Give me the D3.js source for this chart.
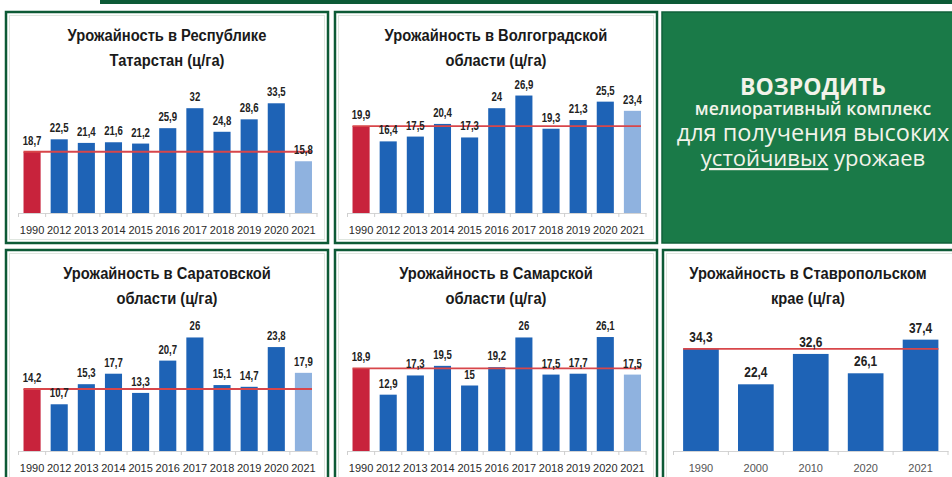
<!DOCTYPE html>
<html>
<head>
<meta charset="utf-8">
<script src="https://cdn.jsdelivr.net/npm/d3@7"></script>
<style>
  html, body { margin: 0; padding: 0; background: #fff; }
  svg { display: block; }
</style>
</head>
<body>
<div id="chart"></div>
<script>
// --- data ---
const yearsMain = ['1990', '2012', '2013', '2014', '2015', '2016', '2017', '2018', '2019', '2020', '2021'];
const tatarstan = [18.7, 22.5, 21.4, 21.6, 21.2, 25.9, 32, 24.8, 28.6, 33.5, 15.8];
const volgograd = [19.9, 16.4, 17.5, 20.4, 17.3, 24, 26.9, 19.3, 21.3, 25.5, 23.4];
const saratov = [14.2, 10.7, 15.3, 17.7, 13.3, 20.7, 26, 15.1, 14.7, 23.8, 17.9];
const samara = [18.9, 12.9, 17.3, 19.5, 15, 19.2, 26, 17.5, 17.7, 26.1, 17.5];

const yearsStavropol = ['1990', '2000', '2010', '2020', '2021'];
const stavropol = [34.3, 22.4, 32.6, 26.1, 37.4];

const titles = [
  ['Урожайность в Республике', 'Татарстан (ц/га)'],
  ['Урожайность в Волгоградской', 'области (ц/га)'],
  ['Урожайность в Саратовской', 'области (ц/га)'],
  ['Урожайность в Самарской', 'области (ц/га)'],
  ['Урожайность в Ставропольском', 'крае (ц/га)']
];

const slogan = ['ВОЗРОДИТЬ', 'мелиоративный комплекс', 'для получения высоких'];
const sloganLast = ['устойчивых', 'урожаев'];

const width = 952;
const height = 477;

// Calibri-like look: Liberation Sans squeezed horizontally
const face = '"Liberation Sans", Arial, sans-serif';
const sans = '"Open Sans", "Noto Sans", sans-serif';

const darkGreen = '#0d5a36';
const red = '#c8233c';
const blue = '#1e63b6';
const lightBlue = '#8fb2df';
const lineRed = '#d8464a';

const svg = d3.select('#chart')
  .append('svg')
  .attr('width', width)
  .attr('height', height)
  .attr('viewBox', `0 0 ${width} ${height}`);

// thin green strip along the top
svg.append('rect')
  .attr('x', 100).attr('y', 0)
  .attr('width', width - 100).attr('height', 4)
  .attr('fill', darkGreen);

// chart panels
const panels = [
  { x: 6,   y: 12,  w: 322, h: 231, title: titles[0], cats: yearsMain, vals: tatarstan, yMax: 40 },
  { x: 335, y: 12,  w: 322, h: 231, title: titles[1], cats: yearsMain, vals: volgograd, yMax: 30 },
  { x: 6,   y: 250, w: 322, h: 240, title: titles[2], cats: yearsMain, vals: saratov,   yMax: 30 },
  { x: 335, y: 250, w: 322, h: 240, title: titles[3], cats: yearsMain, vals: samara,    yMax: 30 },
  { x: 663, y: 250, w: 300, h: 240, title: titles[4], cats: yearsStavropol, vals: stavropol, yMax: 44, wide: true }
];

panels.forEach(drawPanel);

function drawPanel(p) {
  const g = svg.append('g').attr('transform', `translate(${p.x},${p.y})`);

  g.append('rect')
    .attr('x', 0).attr('y', 0)
    .attr('width', p.w).attr('height', p.h)
    .attr('fill', '#fff')
    .attr('stroke', darkGreen)
    .attr('stroke-width', 2.5);

  g.append('rect')
    .attr('x', 3.5).attr('y', 3.5)
    .attr('width', p.w - 7).attr('height', p.h - 7)
    .attr('fill', 'none')
    .attr('stroke', '#dfe6df')
    .attr('stroke-width', 1);

  const cx = p.wide ? 145 : p.w / 2;
  g.selectAll('.title')
    .data(p.title)
    .enter()
    .append('text')
    .attr('class', 'title')
    .attr('transform', (d, i) => `translate(${cx},${29 + i * 25}) scale(0.92,1)`)
    .attr('text-anchor', 'middle')
    .style('font-family', face)
    .style('font-weight', 'bold')
    .style('font-size', '16px')
    .style('fill', '#1a1a1a')
    .text(d => d);

  const base = 201;
  const plotH = 131;

  const x = d3.scaleBand()
    .domain(p.cats)
    .range(p.wide ? [10.5, 285] : [12.5, 311])
    .paddingInner(p.wide ? 0.35 : 0.37)
    .paddingOuter(p.wide ? 0.175 : 0.185);

  const y = d3.scaleLinear()
    .domain([0, p.yMax])
    .range([base, base - plotH]);

  const data = p.cats.map((c, i) => ({ cat: c, value: p.vals[i], i }));
  const last = data.length - 1;

  const fillFor = d => {
    if (p.wide) return blue;
    if (d.i === 0) return red;
    if (d.i === last) return lightBlue;
    return blue;
  };

  g.selectAll('.bar')
    .data(data)
    .enter()
    .append('rect')
    .attr('class', 'bar')
    .attr('x', d => x(d.cat))
    .attr('y', d => y(d.value))
    .attr('width', x.bandwidth())
    .attr('height', d => base - y(d.value))
    .attr('fill', fillFor);

  // axis with labels, ticks between the categories
  const axis = d3.axisBottom(x).tickSize(0).tickPadding(13).tickSizeOuter(0);
  const ax = g.append('g')
    .attr('transform', `translate(0,${base})`)
    .call(axis);
  ax.select('.domain').attr('stroke', '#d4d4d4');
  ax.selectAll('text')
    .style('font-family', face)
    .style('font-size', '11px')
    .style('fill', p.wide ? '#555' : '#2a2a2a');

  const step = x.step();
  const bounds = d3.range(p.cats.length + 1).map(k => x(p.cats[0]) - step * x.paddingInner() / 2 + k * step);
  g.selectAll('.btick')
    .data(bounds)
    .enter()
    .append('line')
    .attr('x1', d => d).attr('x2', d => d)
    .attr('y1', base).attr('y2', base + 4)
    .attr('stroke', '#cfcfcf');

  // reference line at the 1990 level
  g.append('line')
    .attr('x1', x(p.cats[0]))
    .attr('x2', x(p.cats[last]) + x.bandwidth())
    .attr('y1', y(p.vals[0]))
    .attr('y2', y(p.vals[0]))
    .attr('stroke', lineRed)
    .attr('stroke-width', 1.8);

  g.selectAll('.val')
    .data(data)
    .enter()
    .append('text')
    .attr('class', 'val')
    .attr('transform', d => `translate(${x(d.cat) + x.bandwidth() / 2},${y(d.value) - 7}) scale(${p.wide ? 0.85 : 0.8},1)`)
    .attr('text-anchor', 'middle')
    .style('font-family', face)
    .style('font-weight', 'bold')
    .style('font-size', p.wide ? '14px' : '12px')
    .style('fill', '#222')
    .text(d => String(d.value).replace('.', ','));
}

// green call-out box
const box = svg.append('g').attr('transform', 'translate(662,12)');
box.append('rect')
  .attr('x', 0).attr('y', 0)
  .attr('width', 300).attr('height', 231)
  .attr('fill', '#1a7a48')
  .attr('stroke', '#11603a')
  .attr('stroke-width', 1.5);

const sloganStyle = [
  { y: 83, size: 23, weight: 'bold' },
  { y: 103, size: 17.5, weight: '600' },
  { y: 129, size: 23.5, weight: 'normal' }
];

box.selectAll('.slogan')
  .data(slogan)
  .enter()
  .append('text')
  .attr('class', 'slogan')
  .attr('x', 151)
  .attr('y', (d, i) => sloganStyle[i].y)
  .attr('text-anchor', 'middle')
  .style('font-family', sans)
  .style('font-size', (d, i) => sloganStyle[i].size + 'px')
  .style('font-weight', (d, i) => sloganStyle[i].weight)
  .style('fill', '#f3f3ea')
  .text(d => d);

const lastLine = box.append('text')
  .attr('x', 151)
  .attr('y', 154)
  .attr('text-anchor', 'middle')
  .style('font-family', sans)
  .style('font-size', '22px')
  .style('fill', '#f3f3ea');
lastLine.append('tspan')
  .style('text-decoration', 'underline')
  .text(sloganLast[0]);
lastLine.append('tspan')
  .text(' ' + sloganLast[1]);
</script>
</body>
</html>
